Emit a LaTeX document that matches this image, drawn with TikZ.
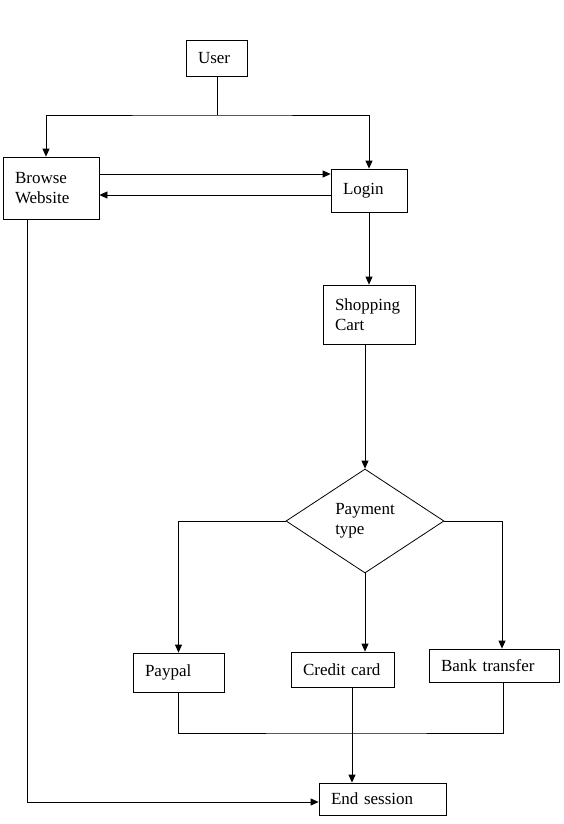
\documentclass[tikz,border=0pt]{standalone}
\usepackage{fontspec}
\setmainfont{Liberation Serif}
\usetikzlibrary{arrows.meta,shapes.geometric}
\begin{document}
\begin{tikzpicture}[x=1pt,y=-1pt,
  every path/.style={line width=0.8pt},
  box/.style={draw, rectangle, inner xsep=12pt, inner ysep=0pt, align=left,
    font=\fontsize{17}{20.5}\selectfont},
  arr/.style={-{Triangle[length=8pt,width=7pt]}}]
\useasboundingbox (0,0) rectangle (564,824);
\node[box, text width=37pt, minimum height=36pt] (user) at (216.5,58) {User};
\node[box, text width=72pt, minimum height=62pt] (browse) at (51,188) {Browse\\Website};
\node[box, text width=52pt, minimum height=43pt] (login) at (369,190.5) {Login};
\node[box, text width=68pt, minimum height=59pt] (cart) at (369,314.5) {Shopping\\Cart};
\node[draw, diamond, minimum width=158pt, minimum height=104pt, inner sep=0pt,
  align=left, font=\fontsize{17}{20.5}\selectfont] (dia) at (365,521) {Payment\\type};
\node[box, text width=67pt, minimum height=39pt] (paypal) at (178.5,672.5) {Paypal};
\node[box, text width=79pt, minimum height=35pt] (credit) at (342.5,669.5) {Credit card};
\node[box, text width=106pt, minimum height=33pt] (bank) at (494,665.5) {Bank transfer};
\node[box, text width=103pt, minimum height=32pt] (endses) at (382.5,799) {End session};
\coordinate (split) at (217,115);
\coordinate (bl) at (46,115);
\coordinate (y174) at (0,174);
\coordinate (y195) at (0,195);
\coordinate (merge) at (352,733);
\coordinate (bc) at (27,802);
% user split
\draw (user.south -| split) -- (split);
\draw[arr] (bl) -- (split) -| (login.north);
\draw[arr] (bl) -- (bl |- browse.north);
% browse <-> login
\draw[arr] (browse.east |- y174) -- (login.west |- y174);
\draw[arr] (login.west |- y195) -- (browse.east |- y195);
% login -> cart -> diamond
\draw[arr] (login.south) -- (cart.north);
\draw[arr] (cart.south -| dia.north) -- (dia.north);
% diamond -> payments
\draw[arr] (dia.west) -| (paypal.north);
\draw[arr] (dia.south) -- (dia.south |- credit.north);
\draw[arr] (dia.east) -| ([xshift=8pt]bank.north);
% merge
\draw (paypal.south) |- (merge) -| ([xshift=9pt]bank.south);
\draw[arr] (credit.south -| merge) -- (merge |- endses.north);
% browse -> end
\draw[arr] (browse.south -| bc) -- (bc) -- (bc -| endses.west);
\end{tikzpicture}
\end{document}
